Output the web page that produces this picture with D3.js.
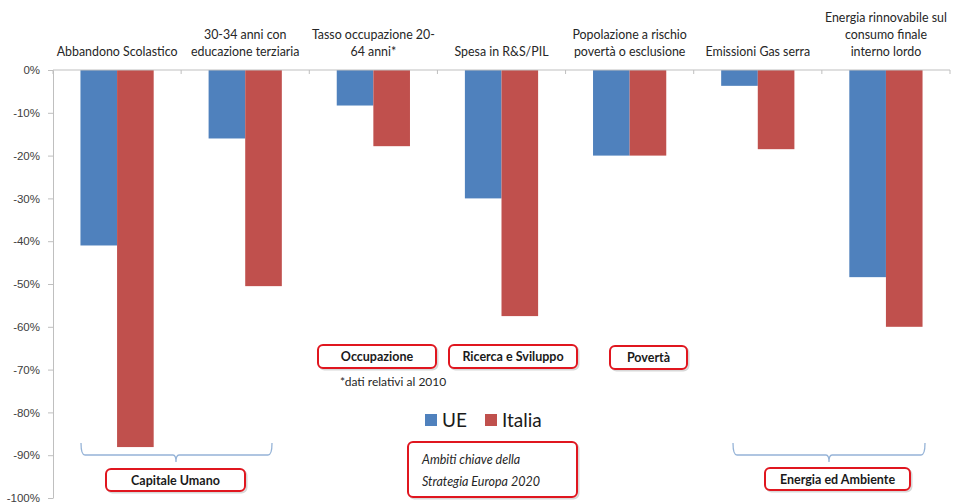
<!DOCTYPE html>
<html><head><meta charset="utf-8">
<script src="https://cdn.jsdelivr.net/npm/d3@7"></script>
<style>
html,body{margin:0;padding:0;background:#fff;}
svg{display:block;font-family:Lato,"Open Sans",sans-serif;}
</style></head>
<body>
<svg id="c" width="953" height="504"></svg>
<script>
const categories = ["Abbandono Scolastico","30-34 anni con educazione terziaria","Tasso occupazione 20-64 anni*","Spesa in R&S/PIL","Popolazione a rischio povertà o esclusione","Emissioni Gas serra","Energia rinnovabile sul consumo finale interno lordo"];
const categoryLines = [
  ["Abbandono Scolastico"],
  ["30-34 anni con","educazione terziaria"],
  ["Tasso occupazione 20-","64 anni*"],
  ["Spesa in R&S/PIL"],
  ["Popolazione a rischio","povertà o esclusione"],
  ["Emissioni Gas serra"],
  ["Energia rinnovabile sul","consumo finale","interno lordo"]
];
const series = ["UE","Italia"];
const ueValues = [-0.41,-0.16,-0.083,-0.30,-0.20,-0.037,-0.484];
const italiaValues = [-0.881,-0.505,-0.178,-0.575,-0.20,-0.185,-0.60];
const yTicks = [0,-0.1,-0.2,-0.3,-0.4,-0.5,-0.6,-0.7,-0.8,-0.9,-1.0];
const areaLabels = ["Occupazione","Ricerca e Sviluppo","Povertà","Capitale Umano","Energia ed Ambiente"];
const noteText = "*dati relativi al 2010";
const boxLines = ["Ambiti chiave della","Strategia Europa 2020"];

const colors = {UE:"#4F81BD", Italia:"#C0504D"};
const svg = d3.select("#c");
const L=53, R=950, T=70, B=498;
const y = d3.scaleLinear().domain([-1,0]).range([B,T]);
const x0 = d3.scaleBand().domain(categories).range([L,R]);
const x1 = d3.scaleBand().domain(series).range([0,x0.bandwidth()]).paddingOuter(0.75);
const data = categories.map((c,i)=>({c, vals:[{s:"UE",v:ueValues[i]},{s:"Italia",v:italiaValues[i]}]}));

// bars
const g = svg.append("g");
g.selectAll("g.cat").data(data).join("g").attr("transform",d=>`translate(${x0(d.c)},0)`)
 .selectAll("rect").data(d=>d.vals).join("rect")
 .attr("x",d=>x1(d.s)).attr("width",x1.bandwidth())
 .attr("y",y(0)).attr("height",d=>y(d.v)-y(0)).attr("fill",d=>colors[d.s]);

// y axis
const yAxis = d3.axisLeft(y).tickValues(yTicks).tickFormat(d3.format(".0%")).tickSize(5).tickSizeOuter(0);
const ya = svg.append("g").attr("transform",`translate(${L},0)`).call(yAxis);
ya.select(".domain").attr("stroke","#BFBFBF");
ya.selectAll(".tick line").attr("stroke","#BFBFBF");
ya.selectAll(".tick text").attr("font-size",11.5).attr("fill","#404040").attr("x",-13)
  .text(d=>d===0?"0%":"-"+Math.round(-d*100)+"%");

// x axis at 0
const xa = svg.append("g").attr("transform",`translate(0,${y(0)})`);
xa.append("line").attr("x1",L).attr("x2",R).attr("stroke","#BFBFBF");
const bounds = categories.map(c=>x0(c)).concat([R]);
xa.selectAll("line.t").data(bounds).join("line").attr("class","t")
  .attr("x1",d=>d).attr("x2",d=>d).attr("y1",0).attr("y2",4).attr("stroke","#BFBFBF");

// category labels
categoryLines.forEach((lines,i)=>{
  const cx = x0(categories[i]) + x0.bandwidth()/2;
  const n = lines.length;
  lines.forEach((t,j)=>{
    svg.append("text").attr("x",cx).attr("y",56 - (n-1-j)*16.8)
      .attr("text-anchor","middle").attr("font-size",12.4).attr("fill","#262626").text(t);
  });
});

function box(x,yy,w,h,label,fs){
  svg.append("rect").attr("x",x+1.5).attr("y",yy+1.5).attr("width",w).attr("height",h).attr("rx",5)
    .attr("fill","none").attr("stroke","#d8d8d8").attr("stroke-width",2);
  svg.append("rect").attr("x",x).attr("y",yy).attr("width",w).attr("height",h).attr("rx",5)
    .attr("fill","#fff").attr("stroke","#E0161F").attr("stroke-width",2);
  if(label) svg.append("text").attr("x",x+w/2).attr("y",yy+h/2+4.5).attr("text-anchor","middle")
    .attr("font-size",fs||12.5).attr("font-weight","bold").attr("fill","#1a1a1a").text(label);
}
box(318,345,118,23,areaLabels[0]);
box(449,345,128,23,areaLabels[1]);
box(610,346,77,23,areaLabels[2]);
box(106,469,139,22,areaLabels[3]);
box(765,468,145,22,areaLabels[4]);

// braces
function brace(x1b,x2b,cx){
  const p = d3.path();
  p.moveTo(x1b,443); p.quadraticCurveTo(x1b,455,x1b+4,455);
  p.lineTo(cx-3,455); p.quadraticCurveTo(cx,455,cx,462);
  p.quadraticCurveTo(cx,455,cx+3,455); p.lineTo(x2b-4,455);
  p.quadraticCurveTo(x2b,455,x2b,443);
  svg.append("path").attr("d",p.toString()).attr("fill","none").attr("stroke","#95B3D7").attr("stroke-width",1.3);
}
brace(81,272,176);
brace(733,925,829);

// note
svg.append("text").attr("x",340).attr("y",386).attr("font-size",12).attr("fill","#262626").text(noteText);

// legend
const leg = svg.append("g");
[[425,"UE"],[485,"Italia"]].forEach(([lx,s])=>{
  leg.append("rect").attr("x",lx).attr("y",414).attr("width",12).attr("height",12).attr("fill",colors[s]);
  leg.append("text").attr("x",lx+17).attr("y",427).attr("font-size",19).attr("fill","#1a1a1a").text(s);
});

// italic box
box(408,442,169,55,null);
boxLines.forEach((t,j)=>{
  svg.append("text").attr("x",422).attr("y",464+j*22).attr("font-size",12.5).attr("font-style","italic")
    .attr("fill","#262626").text(t);
});
</script>
</body></html>
